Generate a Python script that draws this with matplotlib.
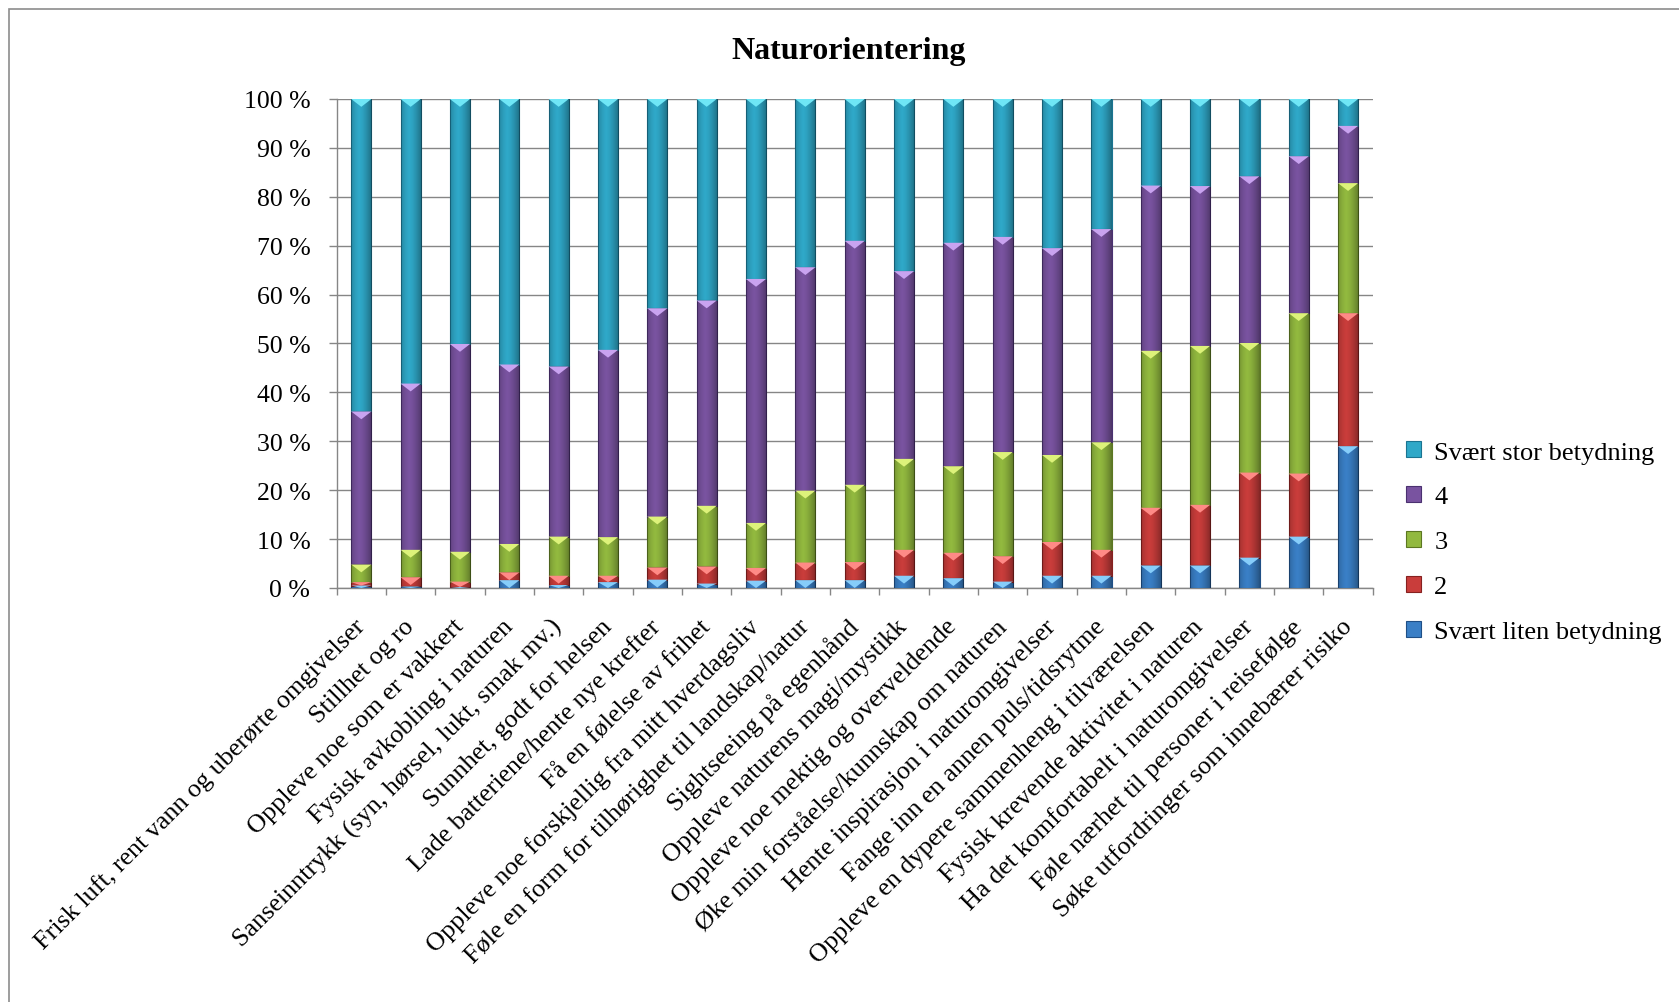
import numpy as np
import matplotlib.pyplot as plt
from matplotlib.patches import Polygon, Rectangle
from matplotlib.transforms import ScaledTranslation

# Categories (x axis, left to right)
categories = [
    "Frisk luft, rent vann og uberørte omgivelser",
    "Stillhet og ro",
    "Oppleve noe som er vakkert",
    "Fysisk avkobling i naturen",
    "Sanseinntrykk (syn, hørsel, lukt, smak mv.)",
    "Sunnhet, godt for helsen",
    "Lade batteriene/hente nye krefter",
    "Få en følelse av frihet",
    "Oppleve noe forskjellig fra mitt hverdagsliv",
    "Føle en form for tilhørighet til landskap/natur",
    "Sightseeing på egenhånd",
    "Oppleve naturens magi/mystikk",
    "Oppleve noe mektig og overveldende",
    "Øke min forståelse/kunnskap om naturen",
    "Hente inspirasjon i naturomgivelser",
    "Fange inn en annen puls/tidsrytme",
    "Oppleve en dypere sammenheng i tilværelsen",
    "Fysisk krevende aktivitet i naturen",
    "Ha det komfortabelt i naturomgivelser",
    "Føle nærhet til personer i reisefølge",
    "Søke utfordringer som innebærer risiko",
]

# Share of answers per category (percent)
svaert_liten = [0.5, 0.3, 0.2, 1.6, 0.6, 1.2, 1.7, 0.9, 1.5, 1.6, 1.6,
                2.5, 2.0, 1.3, 2.5, 2.5, 4.6, 4.6, 6.2, 10.5, 29.0]
verdi_2 = [0.7, 1.9, 1.1, 1.6, 1.9, 1.3, 2.5, 3.5, 2.6, 3.6, 3.7,
           5.3, 5.2, 5.2, 6.9, 5.3, 11.8, 12.4, 17.4, 12.9, 27.2]
verdi_3 = [3.6, 5.6, 6.1, 5.8, 8.0, 7.9, 10.4, 12.4, 9.2, 14.7, 15.8,
           18.6, 17.7, 21.3, 17.8, 22.0, 32.1, 32.5, 26.5, 32.8, 26.6]
verdi_4 = [31.3, 34.0, 42.5, 36.7, 34.8, 38.3, 42.6, 42.0, 49.9, 45.7, 49.9,
           38.4, 45.7, 44.0, 42.3, 43.6, 33.8, 32.7, 34.1, 32.1, 11.7]
svaert_stor = [63.9, 58.2, 50.1, 54.3, 54.7, 51.3, 42.8, 41.2, 36.8, 34.4, 29.0,
               35.2, 29.4, 28.2, 30.5, 26.6, 17.7, 17.8, 15.8, 11.7, 5.5]

series_names = ["Svært liten betydning", "2", "3", "4", "Svært stor betydning"]
y_ticks = [0, 10, 20, 30, 40, 50, 60, 70, 80, 90, 100]

# fill, edge and bevel highlight colour for each series (bottom to top)
fills = ["#3a7fc6", "#c93d3b", "#92b93f", "#7953a0", "#2fa8c8"]
edges = ["#1f4f86", "#862120", "#5c7722", "#4a3170", "#1b7491"]
lights = ["#86cdfa", "#ff8a86", "#ddf27a", "#c9a3f0", "#6fe6f6"]


def main():
    plt.rcParams['font.family'] = ['Liberation Serif', 'DejaVu Serif']

    fig = plt.figure(figsize=(16.79, 10.03), dpi=100)
    ax = fig.add_axes([0.2005, 0.4128, 0.6171, 0.4875])

    data = [svaert_liten, verdi_2, verdi_3, verdi_4, svaert_stor]
    x = np.arange(len(categories))
    w = 0.41
    bottom = np.zeros(len(categories))
    handles = []

    for k, vals in enumerate(data):
        vals = np.array(vals)
        b = ax.bar(x, vals, w, bottom=bottom, color=fills[k],
                   edgecolor=edges[k], linewidth=0.8, zorder=3,
                   label=series_names[k])
        handles.append(b)

        # light bevel triangle at the top of each segment
        for i in range(len(x)):
            top = bottom[i] + vals[i]
            depth = min(1.6, vals[i])
            tri = Polygon([[x[i] - w / 2, top], [x[i] + w / 2, top],
                           [x[i], top - depth]],
                          closed=True, facecolor=lights[k],
                          edgecolor='none', zorder=5)
            ax.add_patch(tri)
        bottom += vals

    # horizontal shading across every bar (darker towards the edges)
    grad = np.zeros((2, 64, 4))
    t = np.linspace(0, 1, 64)
    shade = np.clip(np.abs(t - 0.4) * 1.4, 0, 1) ** 1.5
    grad[:, :, 3] = 0.45 * shade
    for i in range(len(x)):
        ax.imshow(grad, extent=(x[i] - w / 2, x[i] + w / 2, 0, 100),
                  aspect='auto', zorder=4, interpolation='bilinear')

    ax.set_xlim(-0.5, len(categories) - 0.5)
    ax.set_ylim(0, 100)

    # axes, grid and ticks
    grid_col = '#868686'
    ax.set_yticks(y_ticks)
    ax.set_yticklabels([f"{v} %" for v in y_ticks], fontsize=18.5)
    ax.yaxis.grid(True, color=grid_col, linewidth=1.0, zorder=0)
    ax.tick_params(axis='y', length=6, width=1.0, color=grid_col, pad=13)

    ax.set_xticks(x)
    ax.set_xticklabels(categories, fontsize=18.8, rotation=45, ha='right',
                       va='center', rotation_mode='anchor')
    ax.tick_params(axis='x', which='major', length=0, pad=30)
    shift = ScaledTranslation(0.0, 0.07, fig.dpi_scale_trans)
    for lab in ax.get_xticklabels():
        lab.set_transform(lab.get_transform() + shift)
    ax.set_xticks(np.arange(-0.5, len(categories), 1), minor=True)
    ax.tick_params(axis='x', which='minor', length=5, width=1.0,
                   color=grid_col)

    for side in ['top', 'right']:
        ax.spines[side].set_visible(False)
    for side in ['left', 'bottom']:
        ax.spines[side].set_color(grid_col)
        ax.spines[side].set_linewidth(1.0)
    ax.set_axisbelow(True)

    # legend: top entry is "Svært stor betydning"
    fig.legend(handles[::-1], series_names[::-1], loc='center left',
               bbox_to_anchor=(0.8374, 0.4585), frameon=False, fontsize=19,
               handlelength=0.57, handleheight=0.57, handletextpad=0.5,
               labelspacing=0.85, borderpad=0, borderaxespad=0)

    fig.text(0.5057, 0.949, "Naturorientering", ha='center', va='center',
             fontsize=23, fontweight='bold')

    # outer chart border (right and bottom edges lie outside the image)
    fig.add_artist(Rectangle((0.0054, -0.5), 1.5, 0.990 + 0.5,
                             transform=fig.transFigure, fill=False,
                             edgecolor='#8c8c8c', linewidth=1.2))

    fig.savefig("out.png", dpi=100)


if __name__ == "__main__":
    main()
